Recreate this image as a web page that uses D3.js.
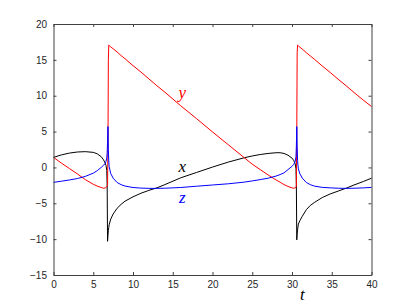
<!DOCTYPE html>
<html lang="en">
<head>
<meta charset="UTF-8">
<title>x, y, z against t</title>
<script src="https://d3js.org/d3.v7.min.js"></script>
<style>
  html, body { margin: 0; padding: 0; background: #fff; }
  .tick text { font-family: "Liberation Sans", Arial, sans-serif; font-size: 10px; fill: #262626; }
  .tick line, .domain { stroke: #404040; }
  .curve { fill: none; stroke-width: 1; }
</style>
</head>
<body>
<div id="chart"></div>
<script>
// values
const xTicks = [0, 5, 10, 15, 20, 25, 30, 35, 40];
const yTicks = [-15, -10, -5, 0, 5, 10, 15, 20];

const tVals = [0, 1, 2, 3, 4, 5, 5.5, 6, 6.3, 6.5,
  6.6, 6.7, 6.75, 6.8, 6.85, 6.9, 6.95, 7, 7.2, 7.5,
  8, 8.5, 9, 10, 11, 12, 13, 14, 16, 18,
  20, 22, 24, 25, 26, 27, 28, 28.5, 29, 29.5,
  30, 30.2, 30.4, 30.5, 30.55, 30.6, 30.65, 30.7, 30.75, 30.8,
  31, 31.3, 31.8, 32.3, 32.8, 33.8, 34.8, 35.8, 36.8, 37.8,
  39, 40];

const xVals = [1.4, 1.75, 2.0, 2.15, 2.2, 2.1, 1.9, 1.5, 1.05, 0.6,
  0.3, -0.4, -2.5, -10.3, -9.5, -8.8, -8.4, -8.0, -7.2, -6.5,
  -5.7, -5.15, -4.7, -4.1, -3.6, -3.2, -2.85, -2.4, -1.45, -0.7,
  0.05, 0.75, 1.35, 1.6, 1.8, 1.95, 2.05, 2.05, 1.95, 1.7,
  1.3, 1.0, 0.5, -0.2, -2.5, -10.1, -9.3, -8.7, -8.3, -7.9,
  -7.4, -6.8, -5.9, -5.3, -4.9, -4.2, -3.7, -3.3, -2.9, -2.45,
  -1.95, -1.5];

const yVals = [1.4, 0.6, -0.15, -0.9, -1.7, -2.35, -2.6, -2.8, -2.9, -2.85,
  -2.8, -2.7, -2.6, -2.4, 3, 15, 17.05, 17.0, 16.8, 16.55,
  16.1, 15.6, 15.15, 14.2, 13.3, 12.35, 11.4, 10.5, 8.6, 6.8,
  4.95, 3.15, 1.35, 0.45, -0.3, -1.05, -1.75, -2.05, -2.4, -2.65,
  -2.85, -2.9, -2.85, -2.75, -2.6, 5, 16, 17.05, 17.0, 16.95,
  16.75, 16.5, 16.0, 15.55, 15.1, 14.15, 13.25, 12.3, 11.4, 10.45,
  9.35, 8.5];

const zVals = [-2.08, -1.92, -1.75, -1.55, -1.25, -0.8, -0.45, 0.0, 0.3, 0.57,
  0.8, 1.3, 2.0, 3.5, 5.7, 2.5, 0.9, 0.1, -0.85, -1.5,
  -2.1, -2.4, -2.6, -2.8, -2.88, -2.92, -2.92, -2.9, -2.8, -2.62,
  -2.45, -2.28, -2.05, -1.88, -1.7, -1.5, -1.2, -1.0, -0.75, -0.3,
  0.15, 0.4, 0.8, 1.5, 3.0, 5.7, 3.0, 1.0, 0.3, -0.2,
  -0.9, -1.5, -2.1, -2.4, -2.6, -2.78, -2.85, -2.9, -2.92, -2.9,
  -2.85, -2.78];

const seriesNames = ["x", "y", "z"];
const seriesColors = ["#000000", "#ff0000", "#0000ff"];
const labelPos = [[16.2, -0.1], [16.2, 10.1], [16.2, -4.45]];

const width = 411, height = 308;
const margin = { top: 24, right: 39.5, bottom: 33, left: 53.5 };
const w = width - margin.left - margin.right;
const h = height - margin.top - margin.bottom;

const x = d3.scaleLinear().domain([0, 40]).range([0, w]);
const y = d3.scaleLinear().domain([-15, 20]).range([h, 0]);

const svg = d3.select("#chart").append("svg")
  .attr("width", width)
  .attr("height", height);

const g = svg.append("g")
  .attr("transform", `translate(${margin.left},${margin.top})`);

// curves
const series = [xVals, yVals, zVals];
const line = d3.line()
  .x((d, i) => x(tVals[i]))
  .y(d => y(d));

series.forEach((vals, k) => {
  g.append("path")
    .attr("class", "curve")
    .attr("stroke", seriesColors[k])
    .attr("d", line(vals));
});

// axes, box with inward ticks
g.append("g").attr("transform", `translate(0,${h})`)
  .call(d3.axisBottom(x).tickValues(xTicks).tickSizeInner(-3).tickSizeOuter(0).tickPadding(6));
g.append("g")
  .call(d3.axisLeft(y).tickValues(yTicks).tickSizeInner(-3).tickSizeOuter(0).tickPadding(6.5));
g.append("g")
  .call(d3.axisTop(x).tickValues(xTicks).tickSizeInner(-3).tickSizeOuter(0).tickFormat(""));
g.append("g").attr("transform", `translate(${w},0)`)
  .call(d3.axisRight(y).tickValues(yTicks).tickSizeInner(-3).tickSizeOuter(0).tickFormat(""));
g.selectAll(".tick text").attr("font-family", null).attr("font-size", null);

// curve labels
function mathLabel(sel) {
  sel.attr("font-family", "'Liberation Serif', 'DejaVu Serif', serif")
    .attr("font-style", "italic")
    .attr("font-size", 17)
    .attr("text-anchor", "middle");
}

seriesNames.forEach((name, k) => {
  g.append("text")
    .call(mathLabel)
    .attr("x", x(labelPos[k][0]))
    .attr("y", y(labelPos[k][1]))
    .attr("dy", "0.2em")
    .attr("fill", seriesColors[k])
    .text(name);
});

// t label
g.append("text")
  .call(mathLabel)
  .attr("x", x(31.3))
  .attr("y", h + 25)
  .attr("fill", "#000")
  .text("t");
</script>
</body>
</html>
